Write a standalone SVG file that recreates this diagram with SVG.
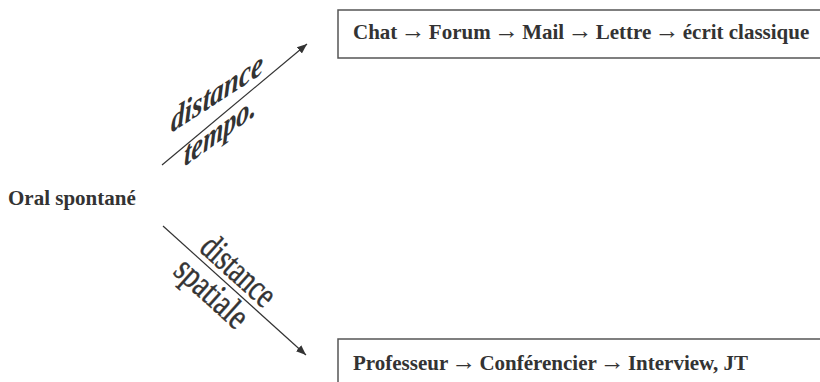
<svg xmlns="http://www.w3.org/2000/svg" width="820" height="382" viewBox="0 0 820 382">
  <defs>
    <marker id="ah" viewBox="0 0 10 10" refX="10" refY="5" markerWidth="10" markerHeight="10" markerUnits="userSpaceOnUse" orient="auto">
      <path d="M0,1 L10,5 L0,9 Z" fill="#333"/>
    </marker>
  </defs>
  <style>
    .box { fill: none; stroke: #555; stroke-width: 1.5; }
    .lbl { font-family: "Liberation Serif", "Times New Roman", serif; font-weight: bold; font-size: 21px; fill: #333; }
    .ar { font-weight: normal; font-size: 25px; }
    .diag { font-family: "Liberation Serif", "Times New Roman", serif; fill: #333; }
    .top { font-style: italic; font-weight: bold; font-size: 34px; }
    .bot { font-size: 37px; stroke: #333; stroke-width: 0.5; }
    .conn { stroke: #333; stroke-width: 1.2; fill: none; }
  </style>
  <rect width="820" height="382" fill="#fff"/>
  <g id="oral">
    <text class="lbl" x="8" y="205">Oral spontané</text>
  </g>
  <g id="ecrit">
    <path class="box" d="M822,10 H338 V58 H822"/>
    <text class="lbl" x="353" y="39">Chat <tspan class="ar" dx="-2">→</tspan><tspan dx="-2"> Forum </tspan><tspan class="ar" dx="-2">→</tspan><tspan dx="-2"> Mail </tspan><tspan class="ar" dx="-2">→</tspan><tspan dx="-2"> Lettre </tspan><tspan class="ar" dx="-2">→</tspan><tspan dx="-2"> écrit classique</tspan></text>
  </g>
  <g id="prof">
    <path class="box" d="M822,339 H338 V384"/>
    <text class="lbl" x="353" y="370">Professeur <tspan class="ar" dx="-2">→</tspan><tspan dx="-2"> Conférencier </tspan><tspan class="ar" dx="-2">→</tspan><tspan dx="-2"> Interview, JT</tspan></text>
  </g>
  <g id="connectors">
    <line class="conn" x1="162" y1="165" x2="307" y2="44" marker-end="url(#ah)"/>
    <line class="conn" x1="163" y1="226" x2="306" y2="355" marker-end="url(#ah)"/>
    <text class="diag top" textLength="92" lengthAdjust="spacingAndGlyphs" transform="translate(171,133) skewY(-33)">distance</text>
    <text class="diag top" textLength="72" lengthAdjust="spacingAndGlyphs" transform="translate(184,167) skewY(-36)">tempo.</text>
    <text class="diag bot" textLength="88" lengthAdjust="spacingAndGlyphs" transform="translate(198,250) rotate(42)">distance</text>
    <text class="diag bot" textLength="86" lengthAdjust="spacingAndGlyphs" transform="translate(172,273) rotate(42)">spatiale</text>
  </g>
</svg>
